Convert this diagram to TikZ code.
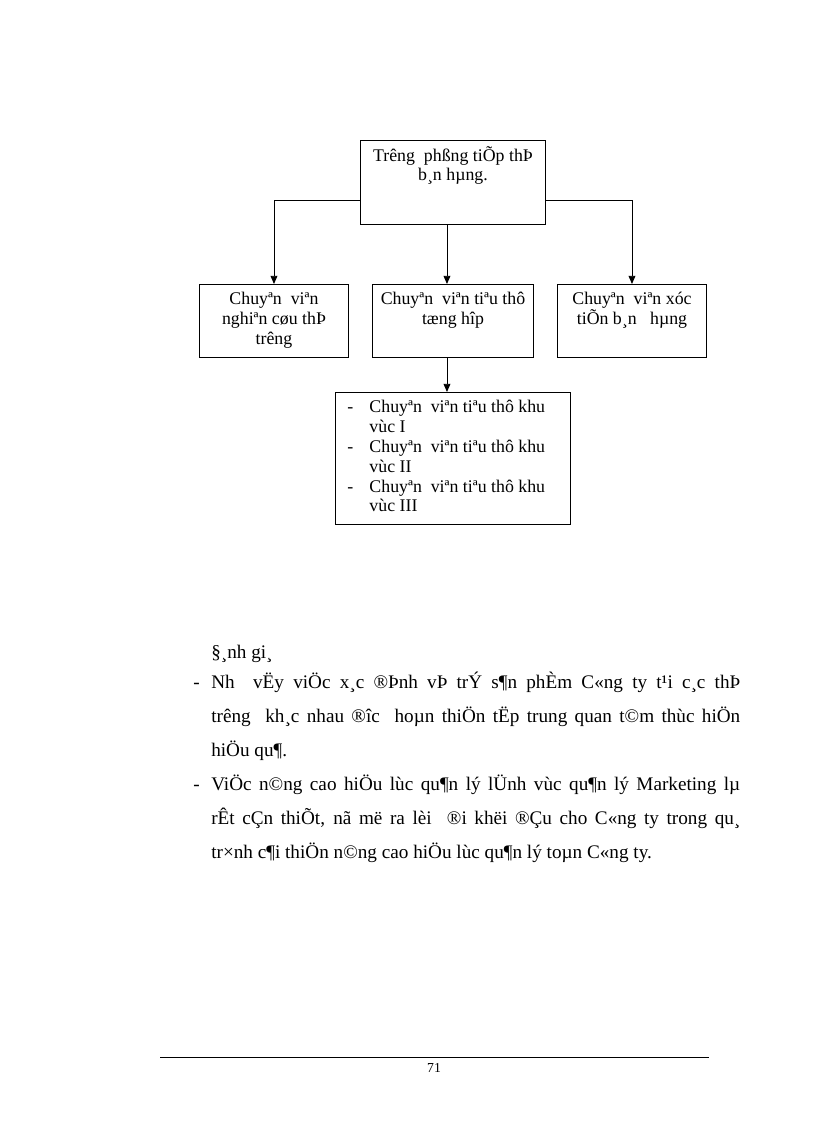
\documentclass[tikz,border=0pt]{standalone}
\usepackage{fontspec}
\setmainfont{Liberation Serif}
\usepackage{tikz}
\usetikzlibrary{arrows.meta,positioning}
\newdimen\pxu \pxu=0.7295pt
\tikzset{
  orgbox/.style={draw,line width=0.7pt,inner sep=0pt,anchor=north west,font=\fontsize{13}{14.5}\selectfont},
  ar/.style={-{Triangle[length=6pt,width=5pt]},line width=0.7pt}
}

\begin{document}
\begin{tikzpicture}[x=0.7295pt,y=-0.7295pt]
\useasboundingbox (0,0) rectangle (816,1123);
% chart
\node[orgbox] (head) at (360,140) {\parbox[c][84\pxu][t]{185\pxu}{\centering\rule{0pt}{15pt}Trêng\ \ phßng tiÕp thÞ\\ b¸n\ hµng.}};
\node[orgbox] (market) at (199,284) {\parbox[c][73\pxu][t]{149\pxu}{\centering\rule{0pt}{14.6pt}Chuyªn\ \ viªn\\ nghiªn\ cøu thÞ\\ trêng}};
\node[orgbox] (sales) at (372,284) {\parbox[c][73\pxu][t]{161\pxu}{\centering\rule{0pt}{14.6pt}Chuyªn\ \ viªn tiªu thô\\ tæng hîp}};
\node[orgbox] (promo) at (557,284) {\parbox[c][73\pxu][t]{149\pxu}{\centering\rule{0pt}{14.6pt}Chuyªn\ \ viªn xóc\\ tiÕn b¸n\ \ \ hµng}};
\node[orgbox] (area) at (335,392) {\parbox[c][132\pxu][t]{235\pxu}{\raggedright
  \rule{0pt}{14.6pt}\hspace*{12\pxu}\makebox[22\pxu][l]{-}Chuyªn\ \ viªn tiªu thô khu\\
  \hspace*{34\pxu}vùc\ I\\
  \hspace*{12\pxu}\makebox[22\pxu][l]{-}Chuyªn\ \ viªn tiªu thô khu\\
  \hspace*{34\pxu}vùc\ II\\
  \hspace*{12\pxu}\makebox[22\pxu][l]{-}Chuyªn\ \ viªn tiªu thô khu\\
  \hspace*{34\pxu}vùc\ III}};
\draw[ar] ([yshift=-18\pxu]head.west) -| (market.north);
\draw[ar] ([yshift=-18\pxu]head.east) -| (promo.north);
\draw[ar] ([xshift=-6\pxu]head.south) -- ([xshift=-6\pxu]head.south |- sales.north);
\draw[ar] ([xshift=-6\pxu]sales.south) -- ([xshift=-6\pxu]sales.south |- area.north);
% evaluation text
\node[anchor=base west,inner sep=0pt] (eval) at (193,658) {\parbox[t]{547\pxu}{\fontsize{14}{24.8}\selectfont
  \hspace*{18\pxu}§¸nh gi¸\par\vspace{-2.5pt}
  \hangindent=18\pxu\hangafter=1\noindent\makebox[18\pxu][l]{-}Nh\ \ vËy viÖc x¸c ®Þnh vÞ trÝ s¶n phÈm C«ng ty t¹i c¸c thÞ\linebreak
  trêng\ \ kh¸c nhau ®îc\ \ hoµn thiÖn tËp trung quan t©m thùc hiÖn\linebreak
  hiÖu qu¶.\par
  \hangindent=18\pxu\hangafter=1\noindent\makebox[18\pxu][l]{-}ViÖc n©ng cao hiÖu lùc qu¶n lý lÜnh vùc qu¶n lý Marketing lµ\linebreak
  rÊt cÇn thiÕt, nã më ra lèi\ \ ®i khëi ®Çu cho C«ng ty trong qu¸\linebreak
  tr×nh c¶i thiÖn n©ng cao hiÖu lùc qu¶n lý toµn C«ng ty.\par}};
% footer
\draw[line width=0.7pt] (160,1057) -- (709,1057);
\node[inner sep=0pt] (pgnum) at (434,1068) {\fontsize{10}{12}\selectfont 71};
\end{tikzpicture}
\end{document}
